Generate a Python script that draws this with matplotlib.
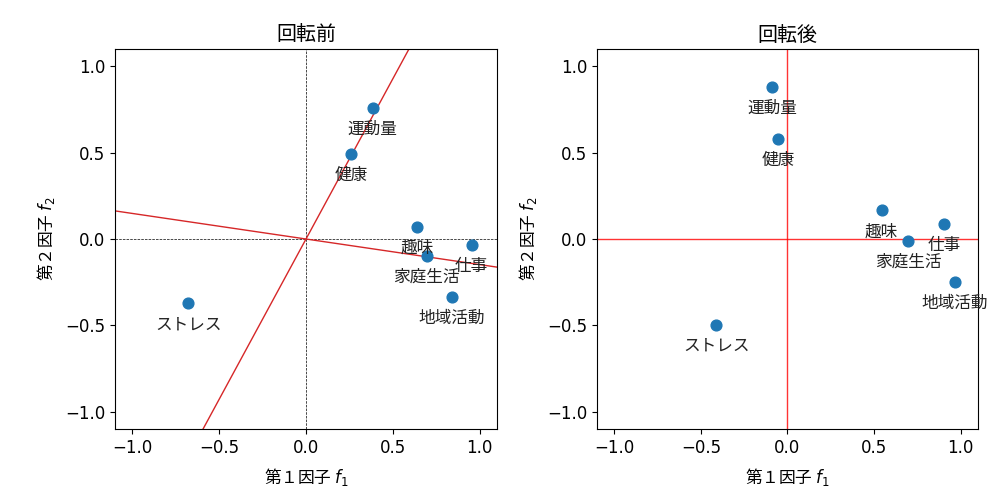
import matplotlib.pyplot as plt

plt.rcParams["font.family"] = ["DejaVu Sans", "Noto Sans CJK JP"]
plt.rcParams["font.size"] = 12

# 変数名
labels = ["運動量", "健康", "趣味", "家庭生活", "仕事", "地域活動", "ストレス"]

# 回転前の因子負荷量
f1_before = [0.383, 0.260, 0.638, 0.694, 0.954, 0.838, -0.678]
f2_before = [0.756, 0.494, 0.070, -0.097, -0.037, -0.335, -0.372]

# 回転後の因子負荷量
f1_after = [-0.088, -0.054, 0.544, 0.697, 0.904, 0.966, -0.412]
f2_after = [0.882, 0.578, 0.166, -0.010, 0.087, -0.247, -0.499]

# 回転後の軸の方向 (回転前の座標で見た傾き)
axis_slopes = [1.855, -0.148]

LIM = (-1.1, 1.1)
JP = "Noto Sans CJK JP"


def scatter_with_labels(ax, xs, ys, title):
    ax.scatter(xs, ys, s=60, color="tab:blue", zorder=3)
    for name, x, y in zip(labels, xs, ys):
        ax.annotate(
            name,
            (x, y),
            textcoords="offset points",
            xytext=(0, -15),
            ha="center",
            va="center",
            fontsize=12,
            color="#222222",
            zorder=4,
        )
    ax.set_xlim(*LIM)
    ax.set_ylim(*LIM)
    ax.set_title(title)
    # mathtext 部分があるとフォールバックが効かないので日本語フォントを直接指定
    ax.set_xlabel("第１因子 $f_1$", fontfamily=JP, labelpad=7)
    ax.set_ylabel("第２因子 $f_2$", fontfamily=JP, labelpad=6)
    ax.set_xticks([-1.0, -0.5, 0.0, 0.5, 1.0])
    ax.set_yticks([-1.0, -0.5, 0.0, 0.5, 1.0])


fig = plt.figure(figsize=(10.01, 4.95), dpi=100)
ax1 = fig.add_axes([0.1149, 0.1333, 0.3816, 0.7677])
ax2 = fig.add_axes([0.5964, 0.1333, 0.3806, 0.7677])

# 回転前
ax1.axhline(0, color="black", linestyle="--", linewidth=0.5, zorder=1)
ax1.axvline(0, color="black", linestyle="--", linewidth=0.5, zorder=1)
for slope in axis_slopes:
    ax1.axline((0, 0), slope=slope, color="tab:red", linewidth=1.0, zorder=2)
scatter_with_labels(ax1, f1_before, f2_before, "回転前")

# 回転後
ax2.axhline(0, color="red", alpha=0.8, linewidth=1.0, zorder=1)
ax2.axvline(0, color="red", alpha=0.8, linewidth=1.0, zorder=1)
scatter_with_labels(ax2, f1_after, f2_after, "回転後")

fig.savefig("out.png", dpi=100)
